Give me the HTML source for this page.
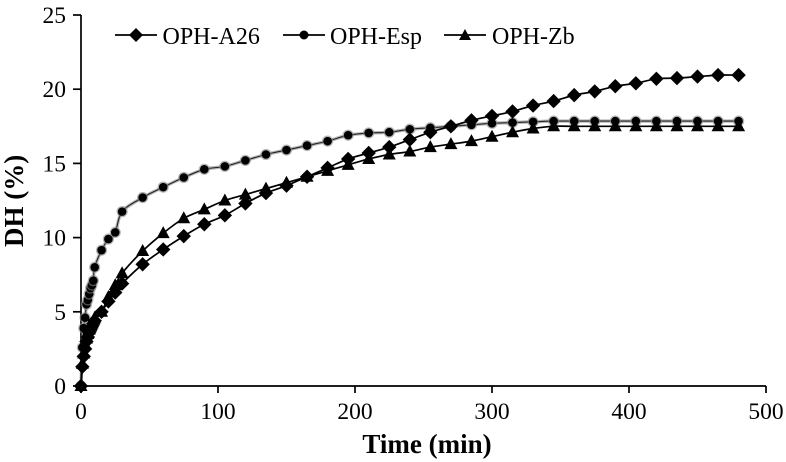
<!DOCTYPE html>
<html>
<head>
<meta charset="utf-8">
<style>
html,body{margin:0;padding:0;background:#fff;}
svg{display:block;font-family:"Liberation Serif",serif;filter:blur(0.35px);}
</style>
</head>
<body>
<svg id="chart" width="786" height="462" viewBox="0 0 786 462" xmlns="http://www.w3.org/2000/svg"></svg>
<script>
const times = [0,1,2,3,4,5,6,7,8,9,10,15,20,25,30,45,60,75,90,105,120,135,150,165,180,195,210,225,240,255,270,285,300,315,330,345,360,375,390,405,420,435,450,465,480];
const seriesA26 = [0,1.3,2,2.5,3,3.3,3.6,3.8,4,4.2,4.4,5,5.7,6.3,6.9,8.2,9.2,10.1,10.9,11.5,12.3,13,13.5,14.1,14.7,15.3,15.7,16.1,16.6,17.1,17.5,17.9,18.2,18.5,18.9,19.2,19.6,19.85,20.2,20.4,20.7,20.75,20.85,20.95,20.95];
const seriesEsp = [0,2.6,3.9,4.6,5.5,5.8,6.2,6.6,6.8,7.1,8,9.15,9.9,10.35,11.75,12.7,13.4,14.05,14.6,14.8,15.2,15.6,15.9,16.2,16.5,16.9,17.05,17.1,17.3,17.4,17.5,17.6,17.7,17.75,17.8,17.85,17.85,17.85,17.85,17.85,17.85,17.85,17.85,17.85,17.85];
const seriesZb = [0,1.5,2.2,2.8,3.2,3.5,3.8,4,4.2,4.4,4.6,5,6,6.8,7.6,9.1,10.3,11.3,11.9,12.5,12.9,13.3,13.7,14.1,14.5,14.9,15.3,15.6,15.8,16.1,16.3,16.5,16.8,17.1,17.35,17.5,17.5,17.5,17.5,17.5,17.5,17.5,17.5,17.5,17.5];
const xTicks = [0,100,200,300,400,500];
const yTicks = [0,5,10,15,20,25];

const NS = 'http://www.w3.org/2000/svg';
const svg = document.getElementById('chart');
const xScale = v => 81 + v * (766 - 81) / 500;
const yScale = v => 386 - v * (386 - 15) / 25;

function make(tag, attrs, parent) {
  const el = document.createElementNS(NS, tag);
  for (const k in attrs) el.setAttribute(k, attrs[k]);
  (parent || svg).appendChild(el);
  return el;
}
function marker(kind, x, y, parent) {
  if (kind === 'diamond') {
    return make('polygon', {points: `${x},${y-7.2} ${x+7.2},${y} ${x},${y+7.2} ${x-7.2},${y}`, fill: '#000'}, parent);
  }
  if (kind === 'circle') {
    make('circle', {cx: x, cy: y, r: 5.6, fill: '#888', opacity: 0.6}, parent);
    return make('circle', {cx: x, cy: y, r: 4.3, fill: '#000'}, parent);
  }
  return make('polygon', {points: `${x},${y-7} ${x+6.5},${y+5} ${x-6.5},${y+5}`, fill: '#000'}, parent);
}
function smoothPath(pts) {
  let d = `M${pts[0][0]},${pts[0][1]}`;
  for (let i = 0; i < pts.length - 1; i++) {
    const p0 = pts[Math.max(i - 1, 0)], p1 = pts[i], p2 = pts[i + 1], p3 = pts[Math.min(i + 2, pts.length - 1)];
    d += `C${p1[0] + (p2[0] - p0[0]) / 6},${p1[1] + (p2[1] - p0[1]) / 6} ${p2[0] - (p3[0] - p1[0]) / 6},${p2[1] - (p3[1] - p1[1]) / 6} ${p2[0]},${p2[1]}`;
  }
  return d;
}

/* axes */
const axes = make('g', {stroke: '#000', 'stroke-width': 1.7, fill: 'none'});


const yAxisLine = make('line', {x1: 81, y1: yScale(25), x2: 81, y2: yScale(0)}, axes);


const xAxisLine = make('line', {x1: 81, y1: yScale(0), x2: xScale(500), y2: yScale(0)}, axes);



yTicks.forEach(t => {
  const tick = make('line', {x1: 73, y1: yScale(t), x2: 81, y2: yScale(t)}, axes);
  
  
  const label = make('text', {x: 66, y: yScale(t) + 8, 'text-anchor': 'end', 'font-size': 23.5, fill: '#000'});
  label.textContent = t;
  
  
});
xTicks.forEach(t => {
  const tick = make('line', {x1: xScale(t), y1: 386, x2: xScale(t), y2: 393}, axes);
  
  
  const label = make('text', {x: xScale(t), y: 419, 'text-anchor': 'middle', 'font-size': 23.5, fill: '#000'});
  label.textContent = t;
  
  
});

/* axis titles */
const xTitle = make('text', {x: 427, y: 453, 'text-anchor': 'middle', 'font-size': 27, 'font-weight': 'bold'});
xTitle.textContent = 'Time (min)';


const yTitle = make('text', {x: 0, y: 0, transform: 'translate(23,247) rotate(-90)', 'font-size': 27, 'font-weight': 'bold'});
yTitle.textContent = 'DH (%)';



/* series: drawn back to front */
function drawSeries(values, kind, name) {
  const g = make('g', {});
  
  
  const pts = times.map((t, i) => [xScale(t), yScale(values[i])]);
  if (kind === 'circle') {
    make('path', {d: smoothPath(pts), fill: 'none', stroke: '#999', 'stroke-width': 3.4, opacity: 0.7}, g);
    make('path', {d: smoothPath(pts), fill: 'none', stroke: '#222', 'stroke-width': 1.1}, g);
  } else {
    make('path', {d: smoothPath(pts), fill: 'none', stroke: '#000', 'stroke-width': 1.7}, g);
  }
  pts.forEach(p => marker(kind, p[0], p[1], g));
}
drawSeries(seriesEsp, 'circle', 'series-oph-esp');
drawSeries(seriesA26, 'diamond', 'series-oph-a26');
drawSeries(seriesZb, 'triangle', 'series-oph-zb');

/* legend */
const legendLabels = ['OPH-A26', 'OPH-Esp', 'OPH-Zb'];
const legendKinds = ['diamond', 'circle', 'triangle'];
const legendStarts = [115, 283, 444];
const legendTextStarts = [162.5, 330, 492];
legendLabels.forEach((name, i) => {
  const g = make('g', {});
  
  
  make('line', {x1: legendStarts[i], y1: 35, x2: legendStarts[i] + 42, y2: 35, stroke: '#000', 'stroke-width': 1.7}, g);
  const cx = legendStarts[i] + 21;
  if (legendKinds[i] === 'diamond') make('polygon', {points: `${cx},28 ${cx+7},35 ${cx},42 ${cx-7},35`, fill: '#000'}, g);
  else if (legendKinds[i] === 'circle') make('circle', {cx: cx, cy: 35, r: 4.5, fill: '#000'}, g);
  else make('polygon', {points: `${cx},29 ${cx+6},40 ${cx-6},40`, fill: '#000'}, g);
  const label = make('text', {x: legendTextStarts[i], y: 44, 'font-size': 24, fill: '#000'}, g);
  label.textContent = name;
});
</script>
</body>
</html>
